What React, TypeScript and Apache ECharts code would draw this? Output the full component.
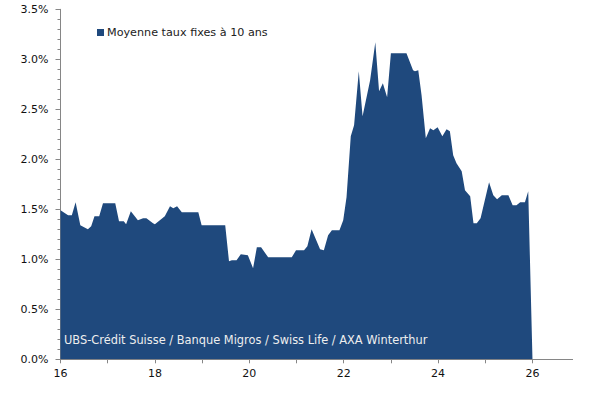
import { useRef, useEffect } from "react";
import * as echarts from "echarts";

// Years as decimals (16 = 2016) and average 10-year fixed rates in %
const years = [
  16.0, 16.16, 16.24, 16.32, 16.42, 16.58, 16.65, 16.72, 16.82, 16.9, 17.16, 17.24, 17.34,
  17.39, 17.49, 17.64, 17.75, 17.82, 17.96, 18.0, 18.21, 18.32, 18.39, 18.47, 18.57, 18.92,
  18.99, 19.49, 19.57, 19.63, 19.73, 19.82, 19.97, 20.08, 20.16, 20.25, 20.4, 20.9, 20.99,
  21.16, 21.23, 21.32, 21.5, 21.58, 21.67, 21.75, 21.91, 21.99, 22.06, 22.15, 22.22, 22.32,
  22.4, 22.56, 22.67, 22.75, 22.83, 22.92, 23.0, 23.33, 23.47, 23.51, 23.58, 23.65, 23.74,
  23.83, 23.9, 23.99, 24.09, 24.18, 24.25, 24.32, 24.39, 24.5, 24.57, 24.68, 24.75, 24.82,
  24.9, 24.99, 25.08, 25.17, 25.25, 25.35, 25.49, 25.58, 25.66, 25.74, 25.84, 25.91, 26.0,
];
const rates = [
  1.49, 1.44, 1.44, 1.57, 1.34, 1.3, 1.33, 1.43, 1.43, 1.56, 1.56, 1.38, 1.38,
  1.35, 1.48, 1.39, 1.41, 1.41, 1.36, 1.35, 1.43, 1.53, 1.51, 1.53, 1.47, 1.47,
  1.34, 1.34, 0.98, 0.99, 0.99, 1.05, 1.04, 0.91, 1.12, 1.12, 1.02, 1.02, 1.09,
  1.09, 1.13, 1.3, 1.1, 1.09, 1.24, 1.29, 1.29, 1.39, 1.62, 2.23, 2.34, 2.88,
  2.43, 2.79, 3.17, 2.68, 2.76, 2.62, 3.06, 3.06, 2.89, 2.88, 2.89, 2.64, 2.21,
  2.31, 2.29, 2.32, 2.23, 2.3, 2.28, 2.04, 1.96, 1.88, 1.69, 1.63, 1.36, 1.36,
  1.41, 1.59, 1.77, 1.64, 1.6, 1.64, 1.64, 1.54, 1.54, 1.57, 1.57, 1.68, 0,
];
const tickYears = [16, 17, 18, 19, 20, 21, 22, 23, 24, 25, 26];
const labelYears = [16, 18, 20, 22, 24, 26];
const seriesName = "Moyenne taux fixes à 10 ans";
const sourceNote = "UBS-Crédit Suisse / Banque Migros / Swiss Life / AXA Winterthur";

const FONT = "DejaVu Sans";
const BLUE = "#1f497d";
const AXIS = "#868686";

export default function App() {
  const chartRef = useRef<HTMLDivElement>(null);

  useEffect(() => {
    if (!chartRef.current) return;
    const chart = echarts.init(chartRef.current, undefined, { renderer: "svg" });

    const option: echarts.EChartsOption = {
      animation: false,
      textStyle: { fontFamily: FONT },
      grid: { left: 60.5, right: 16.4, top: 9.3, bottom: 41.7 },
      legend: {
        left: 97,
        top: 27,
        padding: 0,
        icon: "rect",
        itemWidth: 7,
        itemHeight: 7,
        textStyle: { fontFamily: FONT, fontSize: 11.2, color: "#222", padding: [0, 0, 0, -2] },
        data: [seriesName],
      },
      xAxis: {
        type: "value",
        min: 16,
        max: 26.85,
        splitLine: { show: false },
        axisLine: { show: true, lineStyle: { color: AXIS } },
        axisTick: {
          show: true,
          inside: false,
          length: 4,
          customValues: tickYears,
          lineStyle: { color: AXIS },
        },
        axisLabel: {
          customValues: labelYears,
          margin: 9,
          fontSize: 11,
          color: "#111",
          fontFamily: FONT,
        },
      },
      yAxis: {
        type: "value",
        min: 0,
        max: 3.5,
        interval: 0.5,
        splitLine: { show: false },
        axisLine: { show: true, lineStyle: { color: AXIS } },
        axisTick: { show: true, length: 5, lineStyle: { color: AXIS } },
        minorTick: { show: true, splitNumber: 5, length: 3, lineStyle: { color: AXIS } },
        axisLabel: {
          margin: 12,
          fontSize: 11,
          color: "#111",
          fontFamily: FONT,
          formatter: (v: number) => v.toFixed(1) + "%",
        },
      },
      series: [
        {
          name: seriesName,
          type: "line",
          symbol: "none",
          data: years.map((y, i) => [y, rates[i]]),
          itemStyle: { color: BLUE },
          lineStyle: { width: 0, color: BLUE },
          areaStyle: { color: BLUE, opacity: 1 },
        },
      ],
      graphic: [
        {
          type: "text",
          left: 64,
          top: 334,
          style: {
            text: sourceNote,
            fill: "#eeeeee",
            font: `11.4px "${FONT}"`,
          },
          z: 100,
        },
      ],
    };

    chart.setOption(option);
    return () => chart.dispose();
  }, []);

  return (
    <div
      ref={chartRef}
      style={{ position: "absolute", left: 0, top: 0, width: 589, height: 401 }}
    />
  );
}
